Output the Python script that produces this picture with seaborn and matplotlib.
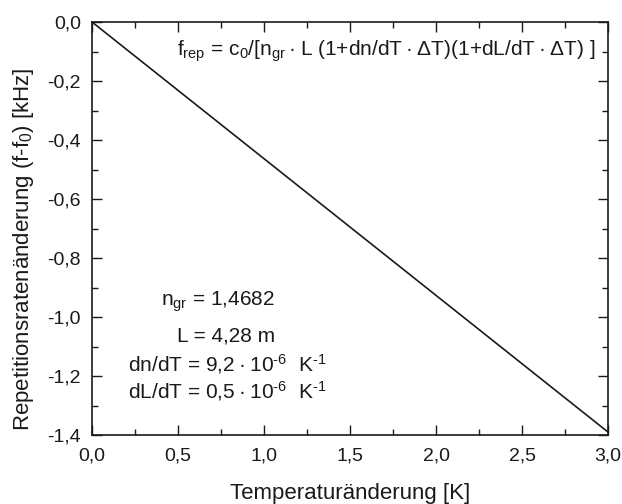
import matplotlib
matplotlib.use("Agg")
import matplotlib.pyplot as plt
import seaborn as sns
from matplotlib.ticker import MultipleLocator, FuncFormatter

# Data: repetition-rate change vs. temperature change
delta_T = [0.0, 3.0]          # K
delta_f = [0.0, -1.39]        # kHz

x_ticks = [0.0, 0.5, 1.0, 1.5, 2.0, 2.5, 3.0]
y_ticks = [0.0, -0.2, -0.4, -0.6, -0.8, -1.0, -1.2, -1.4]

DOT = "\u2009\u00b7\u2009"
params = [
    r"n$_{gr}$ = 1,4682",
    r"L = 4,28 m",
    "dn/dT = 9,2" + DOT + r"10$^{\text{-6}}$  K$^{\text{-1}}$",
    "dL/dT = 0,5" + DOT + r"10$^{\text{-6}}$  K$^{\text{-1}}$",
]
formula = (r"f$_{rep}$ = c$_0$/[n$_{gr}$" + DOT + "L (1+dn/dT" + DOT + "\u0394T)"
           "(1+dL/dT" + DOT + "\u0394T) ]")

sns.set_theme(style="ticks")
plt.rcParams["font.family"] = ["Liberation Sans", "DejaVu Sans"]
plt.rcParams["mathtext.fontset"] = "custom"
plt.rcParams["mathtext.rm"] = "Liberation Sans"
plt.rcParams["mathtext.it"] = "Liberation Sans"
plt.rcParams["mathtext.bf"] = "Liberation Sans:bold"
plt.rcParams["mathtext.default"] = "regular"
plt.rcParams["axes.unicode_minus"] = False

W, H = 622, 504
fig = plt.figure(figsize=(W / 100, H / 100), dpi=100)
fig.patch.set_facecolor("white")

left, top, right, bottom = 92, 22, 608, 435
ax = fig.add_axes([left / W, 1 - bottom / H, (right - left) / W, (bottom - top) / H])
ax.set_facecolor("white")

INK = "#1a1a1a"
sns.lineplot(x=delta_T, y=delta_f, ax=ax, color=INK, linewidth=1.2)

ax.set_xlim(0, 3.0)
ax.set_ylim(-1.4, 0.0)
ax.set_xticks(x_ticks)
ax.set_yticks(y_ticks)
ax.xaxis.set_minor_locator(MultipleLocator(0.25))
ax.yaxis.set_minor_locator(MultipleLocator(0.1))

fmt = FuncFormatter(lambda v, p: f"{v:.1f}".replace(".", ",").replace("-0,0", "0,0"))
ax.xaxis.set_major_formatter(fmt)
ax.yaxis.set_major_formatter(fmt)

for s in ax.spines.values():
    s.set_visible(True)
    s.set_linewidth(1.2)
    s.set_color(INK)

ax.tick_params(which="both", direction="in", top=True, right=True, color=INK, width=1.0)
ax.tick_params(which="major", length=7, labelsize=14, pad=8, labelcolor=INK)
ax.tick_params(which="minor", length=4)
ax.tick_params(axis="x", which="major", pad=9)

ax.set_xlabel("Temperaturänderung [K]", fontsize=16, color=INK)
ax.set_ylabel(r"Repetitionsratenänderung (f-f$_0$) [kHz]", fontsize=16, color=INK)
ax.xaxis.set_label_coords(0.5, -0.117)
ax.yaxis.set_label_coords(-0.108, 0.45)
ax.grid(False)

# Formula in the upper right
fig.text(177 / W, 1 - 56 / H, formula, fontsize=15, color=INK,
         ha="left", va="baseline")

# Parameter block
fig.text(275 / W, 1 - 306 / H, params[0], fontsize=15, color=INK,
         ha="right", va="baseline")
fig.text(275 / W, 1 - 342 / H, params[1], fontsize=15, color=INK,
         ha="right", va="baseline")
fig.text(128 / W, 1 - 371 / H, params[2], fontsize=15, color=INK,
         ha="left", va="baseline")
fig.text(128 / W, 1 - 398 / H, params[3], fontsize=15, color=INK,
         ha="left", va="baseline")

fig.savefig("out.png", dpi=100, facecolor="white")
